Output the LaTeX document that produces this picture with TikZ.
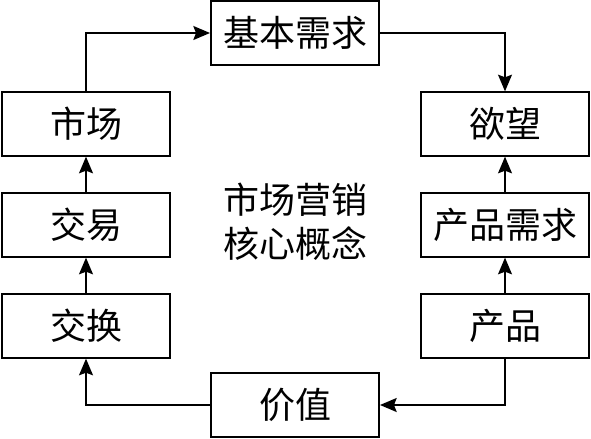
\documentclass[tikz,border=0pt]{standalone}
\usepackage{fontspec}
\newfontfamily\cjk{Noto Sans CJK SC}
\usetikzlibrary{arrows.meta}

\tikzset{
  concept/.style={draw, line width=1.5pt, minimum width=126pt, minimum height=47.5pt,
    inner sep=0pt, font=\cjk\fontsize{27}{33}\selectfont},
  flow/.style={-{Stealth[length=12.5pt,width=10.5pt,inset=2pt]}, line width=1.1pt}
}

\begin{document}
\begin{tikzpicture}[x=0.75pt,y=0.75pt,yscale=-1,xscale=1]
\useasboundingbox (0,0) rectangle (591,438);

% Concept boxes
\node[concept] (need) at (295,33) {基本需求};
\node[concept] (want) at (505,124) {欲望};
\node[concept] (demand) at (505,225) {产品需求};
\node[concept] (product) at (505,326) {产品};
\node[concept] (value) at (295,405) {价值};
\node[concept] (exchange) at (86,326) {交换};
\node[concept] (deal) at (86,225) {交易};
\node[concept] (market) at (86,124) {市场};

% Centre title
\node[align=center, inner sep=0pt, font=\cjk\fontsize{27}{33}\selectfont] (core) at (295,222) {市场营销\\核心概念};

% Connectors
\draw[flow] (market.north) |- (need.west);
\draw[flow] (need.east) -| (want.north);
\draw[flow] (demand.north) -- (want.south);
\draw[flow] (product.north) -- (demand.south);
\draw[flow] (product.south) |- (value.east);
\draw[flow] (value.west) -| (exchange.south);
\draw[flow] (exchange.north) -- (deal.south);
\draw[flow] (deal.north) -- (market.south);

\end{tikzpicture}
\end{document}
